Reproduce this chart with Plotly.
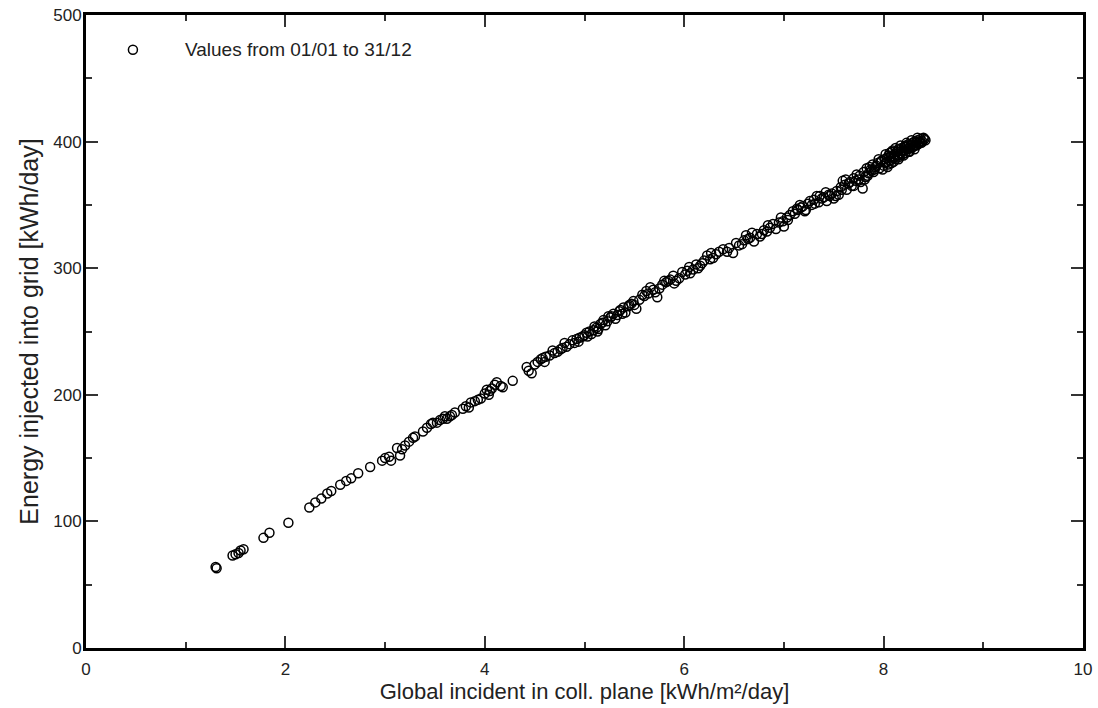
import plotly.graph_objects as go

# Global incident irradiation in collector plane [kWh/m2/day] (daily values)
irr = [
    1.30, 1.31, 1.47, 1.50, 1.53, 1.55, 1.58, 1.78, 1.84, 2.03,
    2.24, 2.30, 2.36, 2.42, 2.46, 2.55, 2.61, 2.66, 2.73, 2.85,
    2.97, 3.00, 3.04, 3.06,
    3.12, 3.15, 3.17, 3.20, 3.24, 3.28, 3.30, 3.38, 3.42, 3.46,
    3.48, 3.52, 3.55, 3.58, 3.62, 3.65, 3.67, 3.78, 3.81, 3.84,
    3.90, 3.93, 3.96, 4.00,
    4.02, 4.05, 4.07, 4.12, 4.16, 4.18, 4.28, 4.42, 4.44, 4.47,
    4.50, 4.53, 4.56, 4.58, 4.61, 4.65, 4.70, 4.73, 4.76, 4.78,
    4.82, 4.85, 4.88, 4.90, 4.92, 4.95, 4.98,
    5.00, 5.02, 5.05, 5.07, 5.09, 5.12, 5.14, 5.16, 5.19, 5.21,
    5.23, 5.26, 5.29, 5.31, 5.33, 5.36, 5.39, 5.41, 5.44, 5.47,
    5.49, 5.52, 5.55, 5.58, 5.62, 5.66, 5.69, 5.73, 5.75, 5.78,
    5.82, 5.86, 5.89, 5.92, 5.95, 5.98,
    6.03, 6.06, 6.09, 6.12, 6.16, 6.20, 6.23, 6.26, 6.29, 6.35,
    6.39, 6.43, 6.49, 6.55, 6.60, 6.64, 6.66, 6.70, 6.73, 6.76,
    6.80, 6.83, 6.86, 6.89, 6.92, 6.95, 6.99, 7.00,
    7.03, 7.06, 7.09, 7.11, 7.14, 7.17, 7.19, 7.22, 7.24, 7.26,
    7.28, 7.30, 7.33, 7.35, 7.38, 7.40, 7.43, 7.45, 7.48, 7.50,
    7.53, 7.55, 7.57, 7.59, 7.61, 7.63, 7.66, 7.68, 7.70, 7.73,
    7.75, 7.77, 7.79, 7.80, 7.82, 7.83, 7.85, 7.87, 7.89, 7.90,
    7.92, 7.94, 7.96, 7.98, 8.00,
    8.01, 8.02, 8.03, 8.04, 8.05, 8.06, 8.07, 8.08, 8.09, 8.10,
    8.11, 8.12, 8.13, 8.14, 8.15, 8.16, 8.17, 8.18, 8.19, 8.20,
    8.21, 8.22, 8.23, 8.24, 8.25, 8.26, 8.27, 8.28, 8.29, 8.30,
    8.31, 8.32, 8.33, 8.34, 8.35, 8.36, 8.37, 8.39, 8.41,
    7.84, 7.88, 7.93, 7.97, 8.03, 8.06, 8.11, 8.14, 8.18, 8.22,
    8.26, 8.29, 8.33, 8.36, 5.10, 5.18, 5.27, 5.35, 5.45, 5.60,
    5.71, 5.84, 6.01, 6.14, 6.32, 7.13, 7.21, 7.36, 7.46, 7.65,
    7.70, 7.72, 7.76, 7.81, 7.86, 7.91, 7.95, 7.99, 8.02, 8.05,
    8.08, 8.10, 8.12, 8.15, 8.17, 8.20, 8.23, 8.25, 8.28, 8.31,
    8.34, 8.38, 8.40, 8.42,
    6.45, 6.52, 6.58, 6.62, 6.68, 6.78, 6.84, 6.97, 7.04, 7.16,
    7.31, 7.42, 7.52, 7.58, 7.62,
    4.60, 4.68, 4.80, 4.94, 5.03, 5.13, 5.24, 5.38, 5.50, 5.64,
    5.80, 5.90, 6.05, 6.18, 6.27, 3.60, 3.70, 3.86, 4.04, 4.10,
]

# Energy injected into grid [kWh/day] (daily values)
energy = [
    64, 63, 73, 74, 75, 77, 78, 87, 91, 99,
    111, 115, 118, 122, 124, 129, 132, 134, 138, 143,
    148, 150, 151, 148,
    158, 152, 157, 160, 163, 166, 167, 171, 174, 177,
    178, 178, 180, 181, 181, 183, 184, 189, 191, 190,
    195, 196, 197, 201,
    204, 203, 205, 210, 207, 206, 211, 222, 219, 217,
    224, 226, 228, 229, 230, 231, 233, 234, 236, 237,
    238, 240, 243, 241, 244, 245, 246,
    247, 249, 250, 248, 251, 253, 252, 256, 259, 255,
    258, 261, 264, 260, 263, 267, 269, 265, 270, 272,
    274, 268, 275, 279, 282, 285, 283, 277, 284, 287,
    289, 291, 294, 290, 292, 297,
    298, 296, 299, 303, 302, 306, 310, 307, 308, 313,
    315, 313, 312, 318, 322, 323, 324, 321, 327, 325,
    330, 329, 332, 335, 331, 336, 337, 333,
    340, 342, 345, 343, 346, 348, 349, 346, 351, 353,
    350, 354, 357, 352, 355, 356, 353, 358, 359, 355,
    361, 358, 364, 369, 366, 362, 368, 365, 371, 374,
    370, 368, 363, 376, 372, 379, 375, 378, 382, 376,
    380, 383, 379, 385, 381,
    386, 383, 387, 380, 389, 385, 388, 383, 393, 387,
    390, 386, 392, 389, 394, 388, 391, 395, 390, 393,
    396, 391, 396, 394, 398, 392, 397, 395, 399, 396,
    400, 397, 399, 401, 398, 400, 402, 400, 402,
    373, 377, 381, 384, 384, 391, 388, 392, 393, 397,
    395, 398, 397, 399, 254, 257, 262, 266, 271, 278,
    281, 290, 295, 300, 311, 347, 345, 357, 357, 367,
    365, 369, 373, 370, 380, 378, 386, 378, 390, 382,
    392, 384, 395, 386, 397, 389, 399, 392, 401, 394,
    403, 399, 403, 401,
    316, 320, 319, 326, 328, 327, 334, 340, 338, 350,
    351, 360, 357, 362, 370,
    226, 235, 241, 242, 246, 250, 262, 264, 271, 280,
    290, 288, 301, 304, 312, 183, 186, 194, 200, 208,
]

legend_label = "Values from 01/01 to 31/12"
x_title = "Global incident in coll. plane [kWh/m²/day]"
y_title = "Energy injected into grid [kWh/day]"

FONT = "Liberation Sans, Arial, sans-serif"
TXT = "#222"

fig = go.Figure()
# Legend shows only the symbol; its label is placed as an annotation
# so that the gap between symbol and text matches the reference.
fig.add_trace(go.Scatter(
    x=irr, y=energy, mode="markers", name="",
    hovertemplate=legend_label + "<br>%{x:.2f}, %{y:.0f}<extra></extra>",
    marker=dict(symbol="circle-open", size=9, color="black",
                line=dict(width=1.5, color="black")),
))

axis_common = dict(
    showline=True, linecolor="black", linewidth=3, mirror="allticks",
    ticks="inside", tickcolor="#333", tickwidth=1.5, ticklen=12,
    showgrid=False, zeroline=False, automargin=False,
    tickfont=dict(family=FONT, size=17, color=TXT),
)

fig.update_layout(
    width=1098, height=708,
    margin=dict(l=86, r=15, t=15, b=60),
    paper_bgcolor="white", plot_bgcolor="white",
    font=dict(family=FONT, color=TXT),
    showlegend=True,
    legend=dict(x=0.027, y=0.975, xanchor="left", yanchor="top",
                bgcolor="rgba(0,0,0,0)",
                font=dict(family=FONT, size=19, color=TXT)),
    xaxis=dict(range=[0, 10], dtick=2, tick0=0,
               minor=dict(dtick=1, ticks="inside", ticklen=6, tickcolor="#333", tickwidth=1.5),
               ticklabelstandoff=4,
               title=dict(text=x_title, font=dict(family=FONT, size=22, color=TXT), standoff=4),
               **axis_common),
    yaxis=dict(range=[0, 500], dtick=100, tick0=0,
               minor=dict(dtick=50, ticks="inside", ticklen=6, tickcolor="#333", tickwidth=1.5),
               ticklabelstandoff=-2,
               title=dict(text=y_title, font=dict(family=FONT, size=25, color=TXT), standoff=8),
               **axis_common),
    annotations=[dict(
        text=legend_label, xref="paper", yref="paper",
        x=0.0973, y=0.945, xanchor="left", yanchor="middle", showarrow=False,
        font=dict(family=FONT, size=19, color=TXT),
    )],
)

fig.write_html("out.html", config={"displayModeBar": False},
               post_script="document.body.style.margin='0';")
